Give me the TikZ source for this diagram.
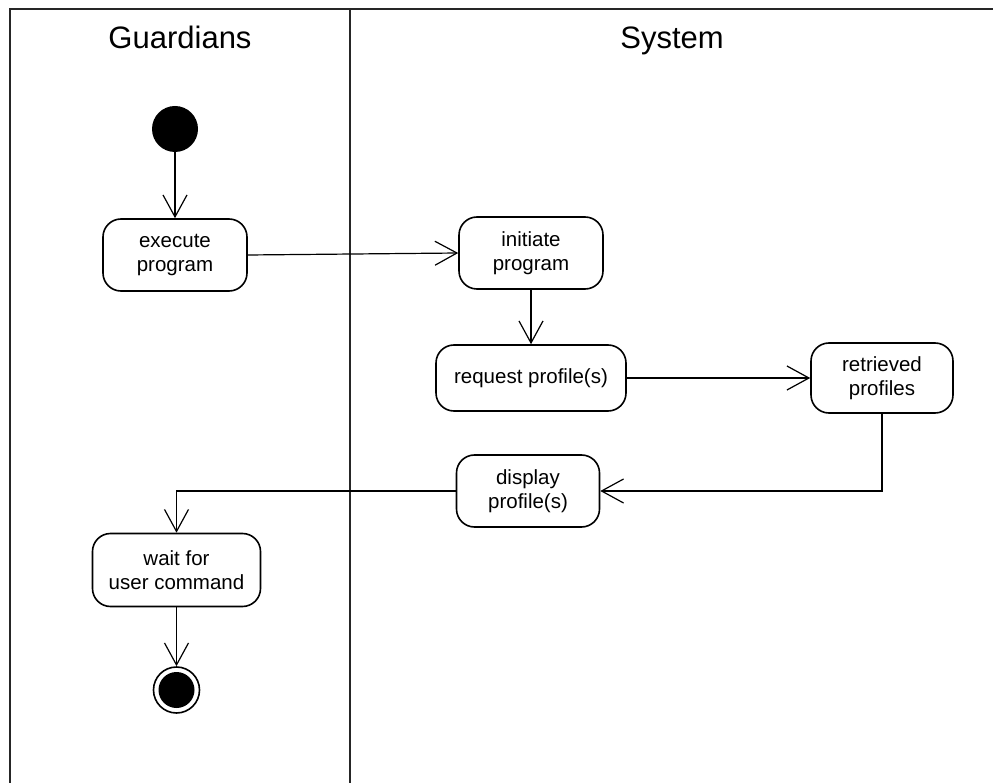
\documentclass[tikz,border=0pt]{standalone}
\usepackage{fontspec}
\setmainfont{Liberation Sans}
\usetikzlibrary{arrows.meta}
\begin{document}
\begin{tikzpicture}[x=1pt,y=-1pt,
  frame/.style={line width=2.2pt,draw=black!85},
  lanetitle/.style={font=\fontsize{31}{36}\selectfont,inner sep=0pt,anchor=base},
  activity/.style={draw,line width=1.6pt,rounded corners=18pt,align=center,
    font=\fontsize{20.5}{24}\selectfont,inner sep=0pt},
  flow/.style={line width=1.2pt,-{Straight Barb[length=22pt,width=24pt,line width=1.2pt]}},
  startnode/.style={circle,fill=black,minimum size=46pt,inner sep=0pt},
  endnode/.style={circle,draw,line width=1.6pt,minimum size=46pt,inner sep=0pt,
    path picture={\fill (path picture bounding box.center) circle (18pt);}}]
\useasboundingbox (0,0) rectangle (993,783);
% swimlane frame
\draw[frame] (10,783) -- (10,9) -- (993,9);
\draw[frame] (350,9) -- (350,783);
\node[lanetitle] (g) at (180,49) {Guardians};
\node[lanetitle] (s) at (672,49) {System};
% activities
\node[startnode] (start) at (175,129) {};
\node[activity,minimum width=144pt,minimum height=72pt] (exec) at (175,255) {execute\\program};
\node[activity,minimum width=144pt,minimum height=72pt] (init) at (531,253) {initiate\\program};
\node[activity,minimum width=190pt,minimum height=66pt] (req) at (531,378) {request profile(s)};
\node[activity,minimum width=142pt,minimum height=70pt] (ret) at (882,378) {retrieved\\profiles};
\node[activity,minimum width=143pt,minimum height=72pt] (disp) at (528,491) {display\\profile(s)};
\node[activity,minimum width=168pt,minimum height=73pt] (wait) at (176.5,570) {wait for\\user command};
\node[endnode] (stop) at (176.5,690) {};
% control flows
\draw[flow] (start) -- (exec);
\draw[flow] (exec.east) -- (init.west);
\draw[flow] (init) -- (req);
\draw[flow] (req) -- (ret);
\draw[flow] (ret.south) |- (disp.east);
\draw[flow] (disp.west) -| (wait.north);
\draw[flow] (wait) -- (stop);
\end{tikzpicture}
\end{document}
